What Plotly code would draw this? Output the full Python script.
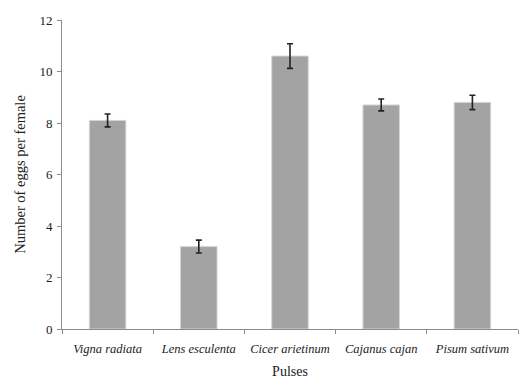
import plotly.graph_objects as go

categories = ["Vigna radiata", "Lens esculenta", "Cicer arietinum", "Cajanus cajan", "Pisum sativum"]
values = [8.1, 3.2, 10.6, 8.7, 8.8]
errors = [0.25, 0.25, 0.48, 0.23, 0.28]
y_ticks = [0, 2, 4, 6, 8, 10, 12]

SERIF = "Liberation Serif"

fig = go.Figure(go.Bar(
    x=categories, y=values,
    marker=dict(color="#a3a3a3", line=dict(color="#d4d4d4", width=1)),
    error_y=dict(type="data", array=errors, visible=True, color="#222222", thickness=1.6, width=3),
    width=0.4,
))

fig.update_layout(
    width=524, height=381,
    margin=dict(l=62, r=6, t=20, b=52),
    paper_bgcolor="white", plot_bgcolor="white",
    font=dict(family=SERIF, color="#222222", size=13),
    showlegend=False,
)
fig.update_xaxes(
    range=[-0.5, 4.5], tickson="boundaries", tickangle=0, automargin=False,
    showline=True, linecolor="#8c8c8c", linewidth=1,
    ticks="outside", ticklen=4, tickcolor="#8c8c8c",
    tickfont=dict(family=SERIF, size=12.5, style="italic", color="#222222"),
    ticklabelstandoff=8,
    title=dict(text="Pulses", font=dict(family=SERIF, size=14), standoff=11),
    showgrid=False,
)
fig.update_yaxes(
    range=[0, 12], tickvals=y_ticks, automargin=False,
    showline=True, linecolor="#8c8c8c", linewidth=1,
    ticks="outside", ticklen=4, tickcolor="#8c8c8c",
    tickfont=dict(family=SERIF, size=13, color="#222222"),
    ticklabelstandoff=2,
    title=dict(text="Number of eggs per female", font=dict(family=SERIF, size=14.5), standoff=10),
    showgrid=False, zeroline=False,
)

fig.write_html("out.html", config={"displayModeBar": False},
               post_script="document.body.style.margin='0px';")
